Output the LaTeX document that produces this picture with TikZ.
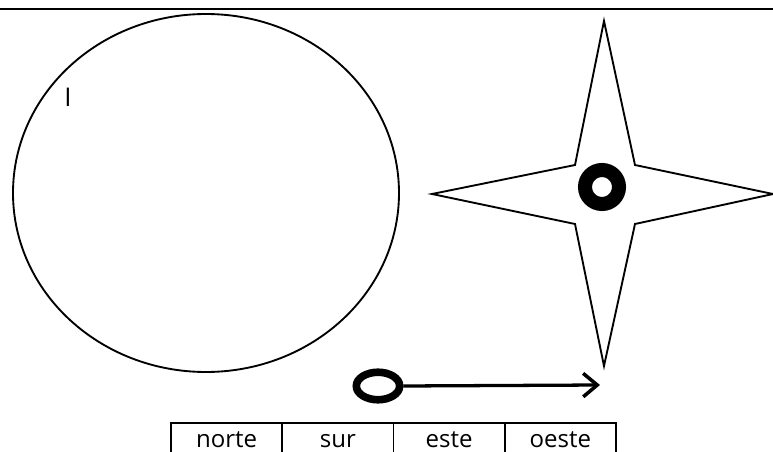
\documentclass[tikz,border=0pt]{standalone}
\usepackage{fontspec}
\newfontfamily\cellfont{Open Sans}
\usetikzlibrary{arrows.meta,positioning,shapes.geometric}

\begin{document}
\begin{tikzpicture}[x=0.03cm, y=-0.03cm,
  every node/.style={font=\cellfont\fontsize{20.5}{24}\selectfont},
  outline/.style={draw, line width=1.6pt},
  ring/.style={circle, draw, line width=12pt, minimum size=29pt, inner sep=0pt},
  knob/.style={ellipse, draw, line width=6.5pt, minimum width=37pt, minimum height=23.5pt, inner sep=0pt},
  pointer/.style={line width=2.8pt, -{Straight Barb[length=12pt, width=20pt, line width=3pt]}},
  cell/.style={draw, line width=1.5pt, minimum width=3.3375cm, minimum height=34pt,
    inner sep=0pt, outer sep=0pt, text height=10pt, text depth=2.2pt}
]
\useasboundingbox (0,0) rectangle (773,452);
\clip (0,0) rectangle (773,452);

%========== top rule ==========
\draw[line width=1.5pt] (0,9) -- (773,9);

%========== globe ==========
\draw[outline] (206,193) ellipse [x radius=193, y radius=179];
\node[font=\cellfont\fontsize{22}{26}\selectfont, inner sep=0pt] (cursor) at (68,97) {I};

%========== compass star ==========
\coordinate (north) at (604,21);
\coordinate (south) at (604,366);
\coordinate (west)  at (432,194);
\coordinate (east)  at (773,194);
\draw[outline, line join=miter]
  (north) -- (635,165) -- (east) -- (635,224) -- (south)
  -- (575,224) -- (west) -- (575,165) -- cycle;
\node[ring] (hub) at (602,187) {};

%========== pointer ==========
\node[knob] (grip) at (378,386) {};
\coordinate (tip) at (600,385);
\draw[pointer] (grip.east) -- (tip);

%========== directions ==========
\node[cell] (norte) at (226.6,443) {norte};
\node[cell, right=0pt of norte] (sur)   {sur};
\node[cell, right=0pt of sur]   (este)  {este};
\node[cell, right=0pt of este]  (oeste) {oeste};

\end{tikzpicture}
\end{document}
